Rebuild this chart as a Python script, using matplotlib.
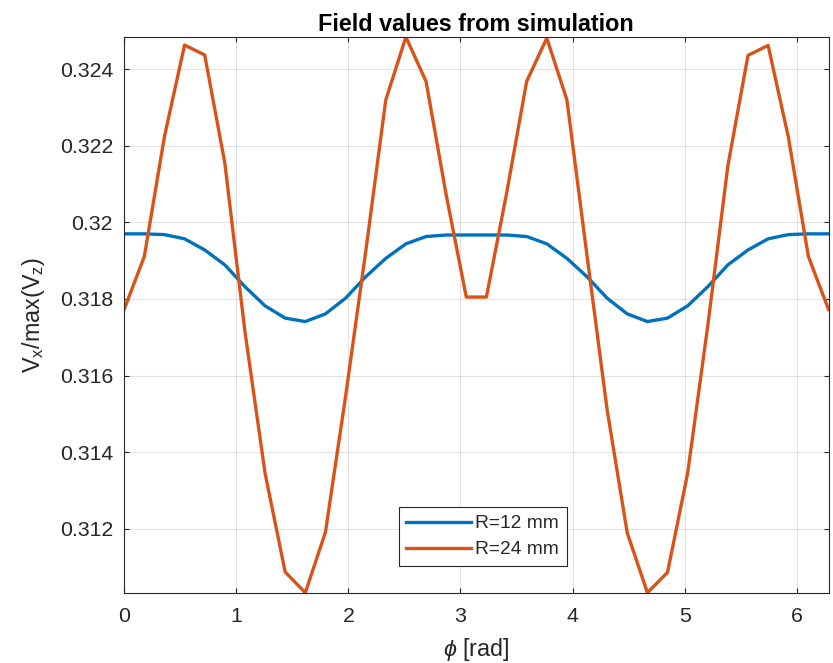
import numpy as np
import matplotlib
matplotlib.use("Agg")
import matplotlib.pyplot as plt

plt.rcParams['font.family'] = ['Liberation Sans', 'DejaVu Sans']
plt.rcParams['mathtext.fontset'] = 'custom'
plt.rcParams['mathtext.rm'] = 'Liberation Sans'
plt.rcParams['mathtext.it'] = 'Liberation Sans:italic'
plt.rcParams['mathtext.bf'] = 'Liberation Sans:bold'

# ---- data ----
phi = np.linspace(0, 2 * np.pi, 36)
r12 = [0.31970, 0.31970, 0.31968, 0.31957, 0.31928, 0.31889, 0.31832, 0.31782,
       0.31750, 0.31741, 0.31761, 0.31802, 0.31858, 0.31906, 0.31944, 0.31963,
       0.31967, 0.31967, 0.31967, 0.31967, 0.31963, 0.31944, 0.31906, 0.31858,
       0.31802, 0.31761, 0.31741, 0.31750, 0.31782, 0.31832, 0.31889, 0.31928,
       0.31957, 0.31968, 0.31970, 0.31970]
r24 = [0.31773, 0.31911, 0.32224, 0.32463, 0.32437, 0.32155, 0.31715, 0.31345,
       0.31087, 0.31033, 0.31191, 0.31545, 0.31923, 0.32320, 0.32484, 0.32368,
       0.32072, 0.31805, 0.31805, 0.32075, 0.32368, 0.32481, 0.32320, 0.31913,
       0.31510, 0.31189, 0.31033, 0.31086, 0.31345, 0.31730, 0.32148, 0.32436,
       0.32462, 0.32224, 0.31911, 0.31773]
labels = ["R=12 mm", "R=24 mm"]
xticks = [0, 1, 2, 3, 4, 5, 6]
yticks = [0.312, 0.314, 0.316, 0.318, 0.320, 0.322, 0.324]
ytick_labels = ["0.312", "0.314", "0.316", "0.318", "0.32", "0.322", "0.324"]

# ---- figure ----
fig = plt.figure(figsize=(8.33, 6.63), dpi=100)
ax = fig.add_axes([124.2 / 833, 1 - 592.7 / 663, (828.5 - 124.2) / 833, (592.7 - 37) / 663])

dark = '#262626'
ax.plot(phi, r12, color='#0072BD', lw=2.4, label=labels[0])
ax.plot(phi, r24, color='#D95319', lw=2.4, label=labels[1])

ax.set_xlim(0, 2 * np.pi)
ax.set_ylim(min(min(r24), min(r12)), max(max(r24), max(r12)))
ax.set_xticks(xticks)
ax.set_xticklabels([str(t) for t in xticks])
ax.set_yticks(yticks)
ax.set_yticklabels(ytick_labels)

ax.grid(True, color='#262626', alpha=0.13, lw=0.8)
ax.set_axisbelow(True)
for s in ax.spines.values():
    s.set_color(dark)
    s.set_linewidth(0.8)
ax.tick_params(axis='both', direction='in', length=3.8, width=0.8, colors=dark,
               labelsize=15.3, top=True, right=True)
ax.tick_params(axis='y', pad=8)
ax.tick_params(axis='x', pad=10.5)

ax.set_title('Field values from simulation', fontsize=16.8, fontweight='bold',
             color='black', pad=4)
ax.set_xlabel(r'$\phi$ [rad]', fontsize=16.8, color=dark, labelpad=7)
ax.set_ylabel(r'V$_{\mathrm{x}}$/max(V$_{\mathrm{z}}$)', fontsize=16.8, color=dark, labelpad=9)

leg = ax.legend(loc='lower center', bbox_to_anchor=(0.509, 0.048), fontsize=13.8,
                frameon=True, fancybox=False, framealpha=1, edgecolor=dark,
                handlelength=3.4, handletextpad=0.2, borderpad=0.4,
                labelspacing=0.45, borderaxespad=0)
leg.get_frame().set_linewidth(0.8)
for t in leg.get_texts():
    t.set_color(dark)

fig.savefig('out.png', dpi=100)
